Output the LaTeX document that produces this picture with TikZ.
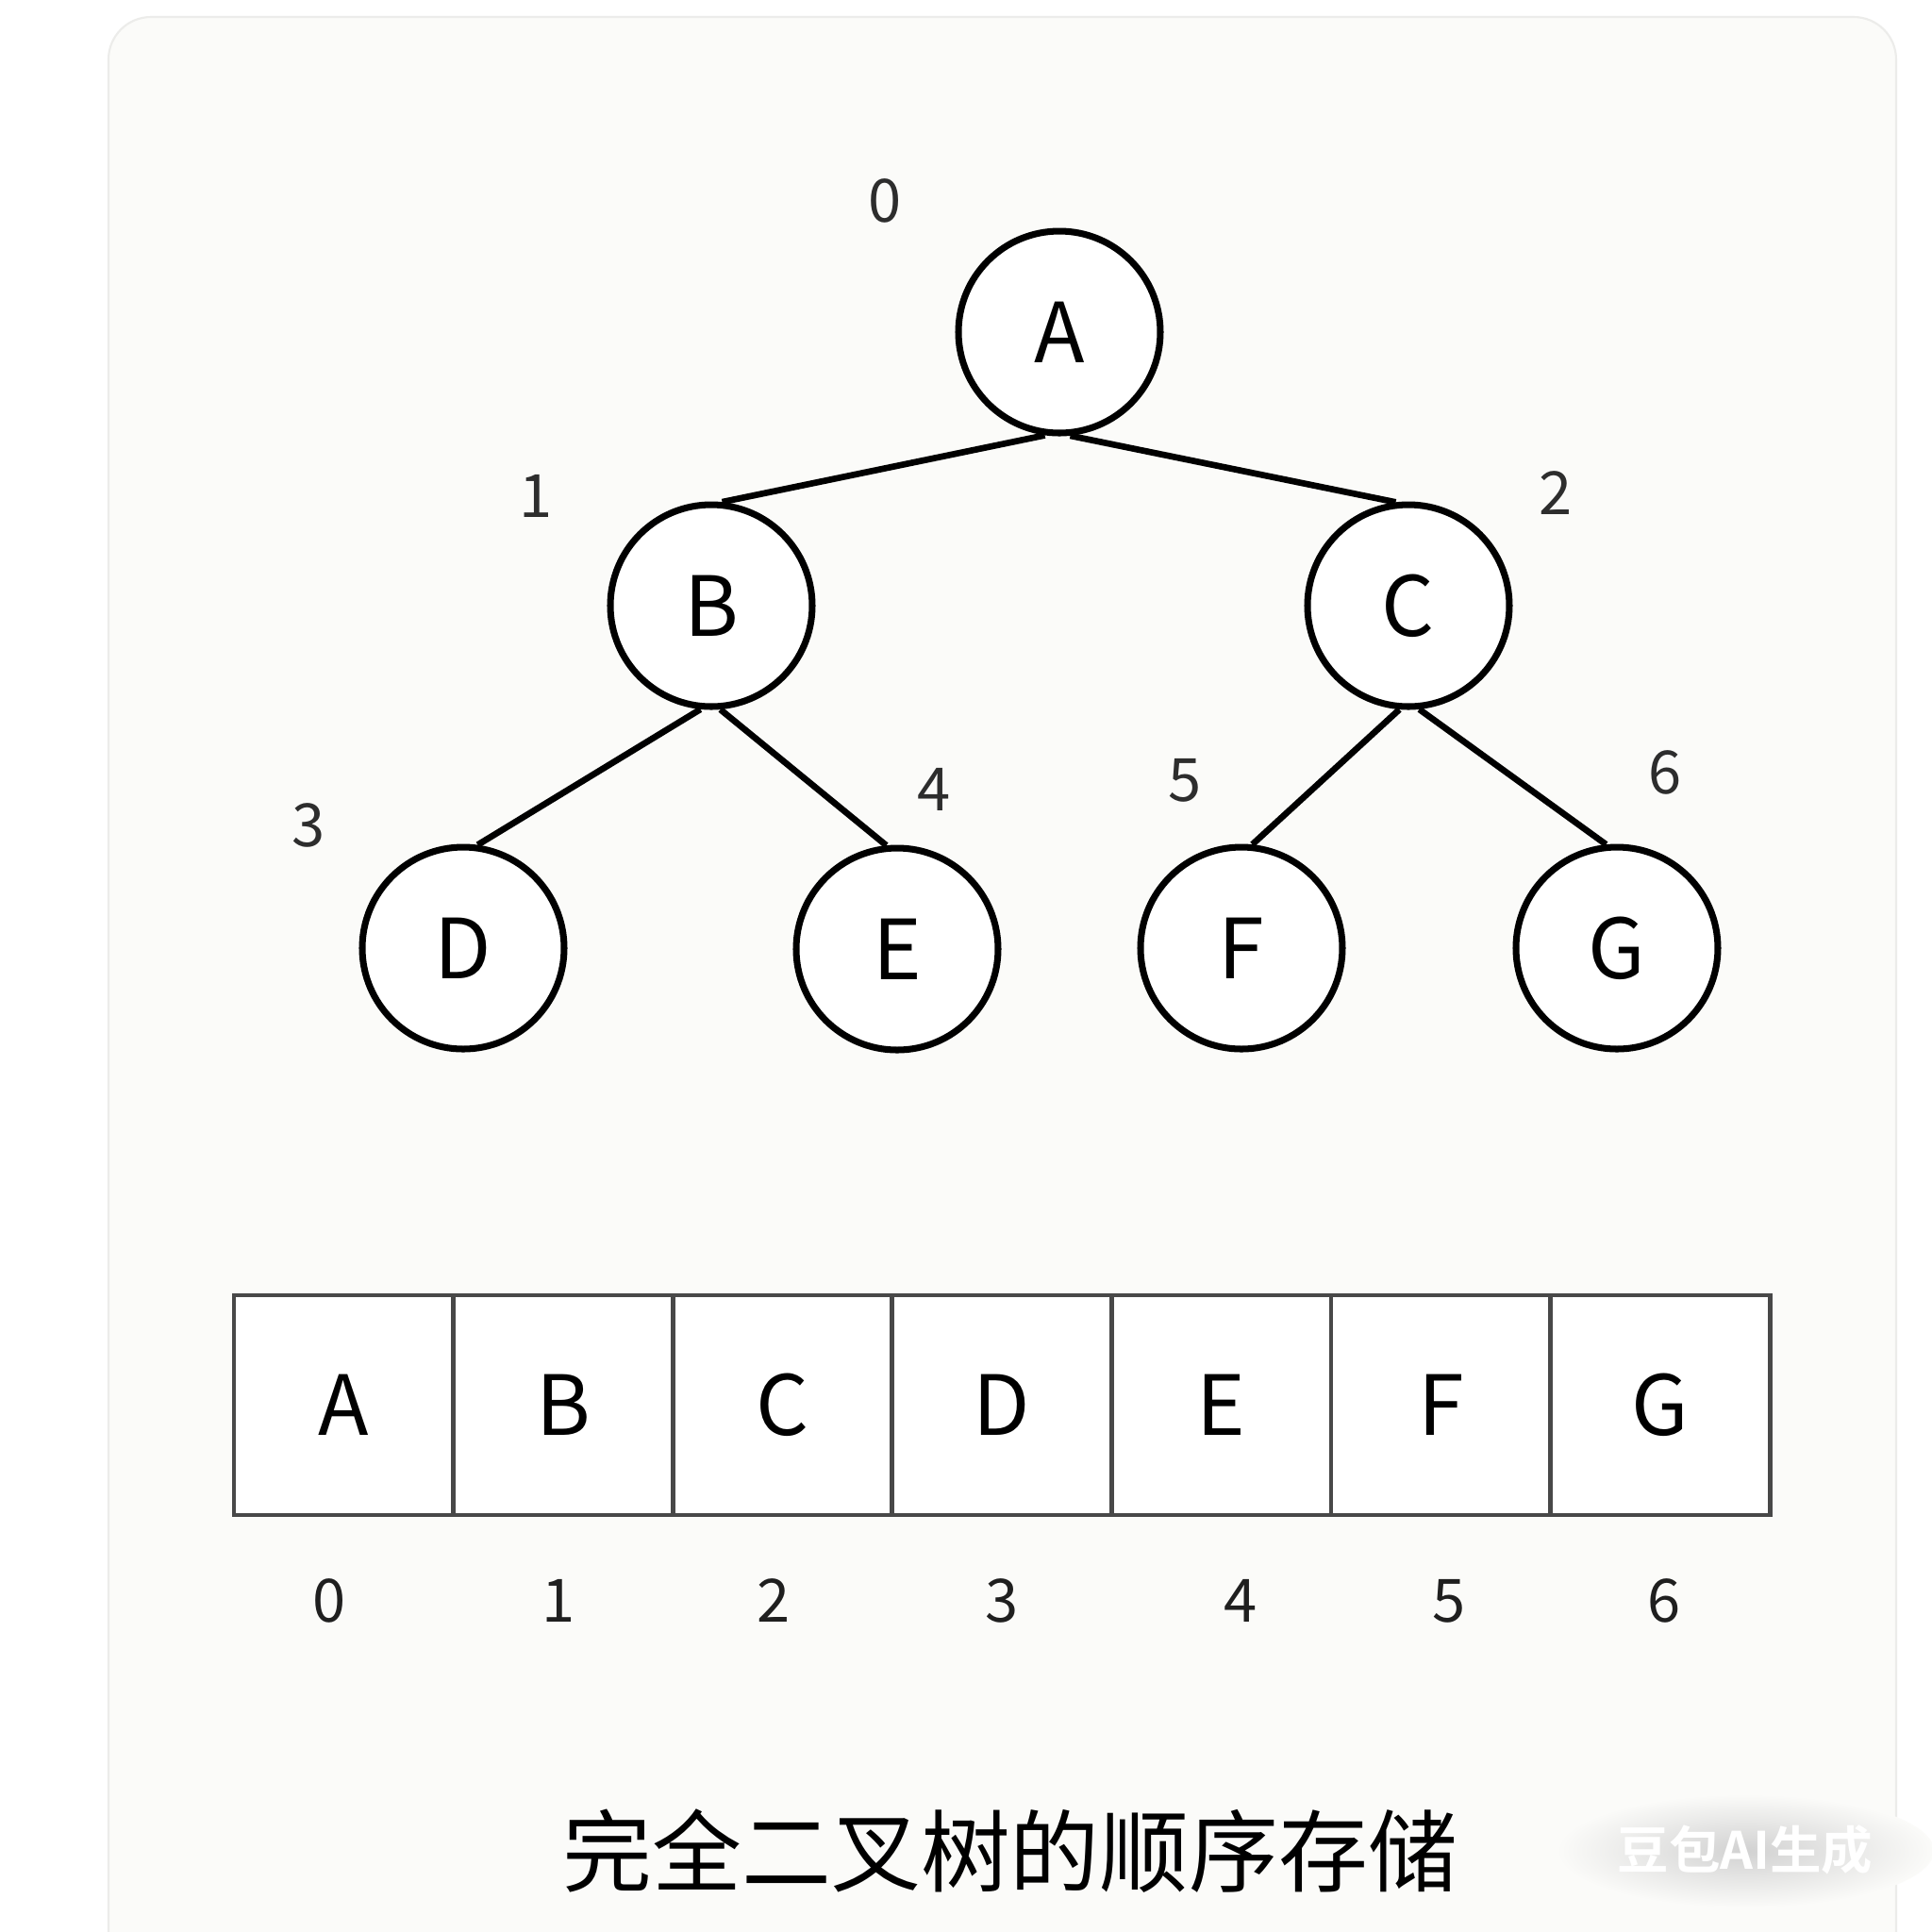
\documentclass[tikz,border=0pt]{standalone}
\usepackage{fontspec}
\setmainfont{Noto Sans CJK SC}
\newfontfamily\markfont{Noto Sans CJK SC Bold}
\usetikzlibrary{shadings}

\definecolor{cardfill}{RGB}{251,251,249}
\definecolor{cardline}{RGB}{236,236,234}
\definecolor{boxline}{RGB}{72,72,72}
\definecolor{idxgray}{RGB}{45,45,45}

\begin{document}
\begin{tikzpicture}[tnode/.style={circle, draw, fill=white, line width=2pt,
  minimum size=2.14cm, inner sep=0pt, font=\fontsize{25}{30}\selectfont},
  cell/.style={rectangle, draw=boxline, fill=white, line width=1.35pt,
  minimum width=2.326cm, minimum height=2.33cm, inner sep=0pt,
  font=\fontsize{25}{30}\selectfont},
  idx/.style={inner sep=0pt, text=idxgray, font=\fontsize{18}{22}\selectfont},
  edge/.style={line width=1.9pt}]
  \useasboundingbox (0,0) rectangle (20.48,-20.48);
  \fill[white] (0,0) rectangle (20.48,-20.48);
  \draw[cardline, fill=cardfill, line width=0.6pt, rounded corners=0.45cm]
    (1.15,-0.18) rectangle (20.10,-21.5);
  % tree
  \node[tnode] (A) at (11.23,-3.52) {A};
  \node[tnode] (B) at (7.54,-6.42) {B};
  \node[tnode] (C) at (14.93,-6.42) {C};
  \node[tnode] (D) at (4.91,-10.05) {D};
  \node[tnode] (E) at (9.51,-10.06) {E};
  \node[tnode] (F) at (13.16,-10.05) {F};
  \node[tnode] (G) at (17.14,-10.05) {G};
  \draw[edge] (A.-98) -- (B.84);
  \draw[edge] (A.-84) -- (C.97);
  \draw[edge] (B.-96) -- (D.82);
  \draw[edge] (B.-85) -- (E.96);
  \draw[edge] (C.-95) -- (F.84);
  \draw[edge] (C.-84) -- (G.96);
  % tree indices
  \node[idx] (t0) at (9.38,-2.13) {0};
  \node[idx] (t1) at (5.68,-5.26) {1};
  \node[idx] (t2) at (16.49,-5.23) {2};
  \node[idx] (t3) at (3.27,-8.75) {3};
  \node[idx] (t4) at (9.90,-8.37) {4};
  \node[idx] (t5) at (12.56,-8.27) {5};
  \node[idx] (t6) at (17.65,-8.19) {6};
  % array
  \foreach \i/\l in {0/A, 1/B, 2/C, 3/D, 4/E, 5/F, 6/G} {
    \node[cell] (c\i) at ({3.643+2.326*\i},-14.895) {\l};
  }
  \foreach \i/\x in {0/3.49, 1/5.92, 2/8.20, 3/10.62, 4/13.15, 5/15.36, 6/17.64} {
    \node[idx, text=black!88] (n\i) at (\x,-16.97) {\i};
  }
  % caption
  \node[font=\fontsize{27}{32}\selectfont] (title) at (10.71,-19.62)
    {完全二叉树的顺序存储};
  \shade[inner color=black!18, outer color=cardfill] (18.5,-19.62)
    ellipse (2.0cm and 0.6cm);
  \node[text=white, font=\markfont\fontsize{15.5}{18}\selectfont] (mark)
    at (18.5,-19.61) {豆包AI生成};
\end{tikzpicture}
\end{document}
